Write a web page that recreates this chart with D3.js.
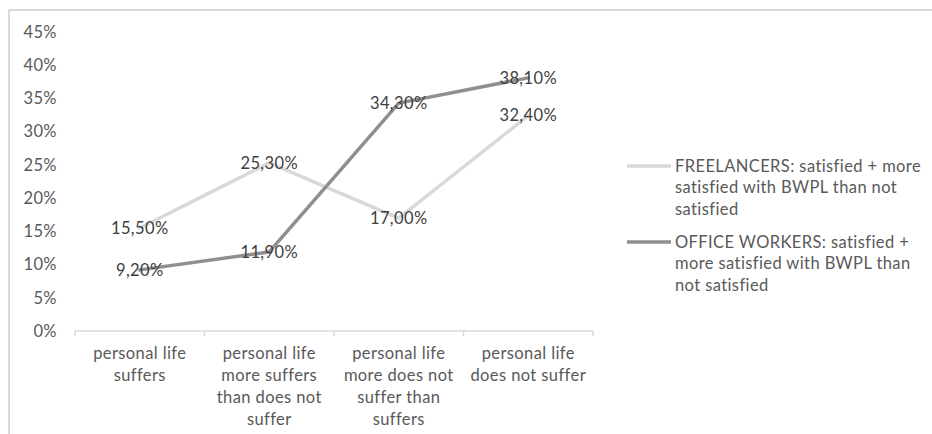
<!DOCTYPE html>
<html>
<head>
<meta charset="utf-8">
<script src="https://cdn.jsdelivr.net/npm/d3@7"></script>
<style>
  html, body { margin: 0; padding: 0; background: #fff; }
  svg { display: block; font-family: Lato, "Open Sans", sans-serif; }
  svg text { letter-spacing: 0.4px; }
</style>
</head>
<body>
<svg id="chart" width="932" height="434"></svg>
<script>
// Category labels, already broken into the lines shown under the axis
const categories = [
  ["personal life", "suffers"],
  ["personal life", "more suffers", "than does not", "suffer"],
  ["personal life", "more does not", "suffer than", "suffers"],
  ["personal life", "does not suffer"]
];
const freelancers = [15.5, 25.3, 17.0, 32.4];
const officeWorkers = [9.2, 11.9, 34.3, 38.1];
const yTicks = [0, 5, 10, 15, 20, 25, 30, 35, 40, 45];
const seriesNames = [
  ["FREELANCERS: satisfied + more", "satisfied with BWPL than not", "satisfied"],
  ["OFFICE WORKERS: satisfied +", "more satisfied with BWPL than", "not satisfied"]
];
const seriesColors = ["#d9d9d9", "#8f8f8f"];

const svg = d3.select("#chart");
const textColor = "#595959";
const fontSize = 16.5;

// Frame around the chart area (top and left edges visible)
svg.append("line").attr("x1", 9).attr("x2", 932).attr("y1", 10).attr("y2", 10)
  .attr("stroke", "#d9d9d9").attr("stroke-width", 2);
svg.append("line").attr("x1", 9).attr("x2", 9).attr("y1", 10).attr("y2", 434)
  .attr("stroke", "#d9d9d9").attr("stroke-width", 2);

const x = d3.scaleBand().domain(d3.range(categories.length)).range([75, 593]).padding(0);
const y = d3.scaleLinear().domain([0, 45]).range([331, 32]);

// Y axis labels (no axis line, no gridlines)
const yAxis = d3.axisLeft(y).tickValues(yTicks).tickSize(0).tickPadding(0)
  .tickFormat(d => d + "%");
const yg = svg.append("g").attr("transform", "translate(57,0)").call(yAxis);
yg.select(".domain").remove();
yg.selectAll("text").attr("fill", textColor).attr("font-size", fontSize)
  .attr("font-family", "Lato, 'Open Sans', sans-serif");

// X axis line with tick marks on band edges
const xg = svg.append("g");
xg.append("line").attr("x1", x.range()[0]).attr("x2", x.range()[1])
  .attr("y1", y(0)).attr("y2", y(0)).attr("stroke", "#d9d9d9").attr("stroke-width", 1.5);
const edges = d3.range(categories.length + 1).map(i => i < categories.length ? x(i) : x.range()[1]);
xg.selectAll("line.tick").data(edges).join("line").attr("class", "tick")
  .attr("x1", d => d).attr("x2", d => d).attr("y1", y(0)).attr("y2", y(0) + 5)
  .attr("stroke", "#d9d9d9").attr("stroke-width", 1.5);

const catLabels = xg.selectAll("text.cat").data(categories).join("text").attr("class", "cat")
  .attr("text-anchor", "middle").attr("fill", textColor).attr("font-size", fontSize)
  .attr("transform", (d, i) => `translate(${x(i) + x.bandwidth() / 2},${y(0) + 28})`);
catLabels.selectAll("tspan").data(d => d).join("tspan")
  .attr("x", 0).attr("dy", (d, i) => i === 0 ? 0 : 22).text(d => d);

// Lines
const line = d3.line().x((d, i) => x(i) + x.bandwidth() / 2).y(d => y(d));
[freelancers, officeWorkers].forEach((vals, s) => {
  svg.append("path").datum(vals).attr("d", line).attr("fill", "none")
    .attr("stroke", seriesColors[s]).attr("stroke-width", 3.5)
    .attr("stroke-linejoin", "round").attr("stroke-linecap", "round");
});

// Data labels centred on each point
const fmt = v => v.toFixed(2).replace(".", ",") + "%";
[freelancers, officeWorkers].forEach(vals => {
  svg.append("g").selectAll("text").data(vals).join("text")
    .attr("x", (d, i) => x(i) + x.bandwidth() / 2).attr("y", d => y(d))
    .attr("dy", "0.35em").attr("text-anchor", "middle")
    .attr("fill", "#404040").attr("font-size", fontSize).text(fmt);
});

// Legend
const legendTop = [166, 242];
seriesNames.forEach((lines, s) => {
  const g = svg.append("g").attr("transform", `translate(627,${legendTop[s]})`);
  g.append("line").attr("x1", 0).attr("x2", 44).attr("y1", 0).attr("y2", 0)
    .attr("stroke", seriesColors[s]).attr("stroke-width", 3.5);
  const t = g.append("text").attr("x", 48).attr("y", 0)
    .attr("fill", textColor).attr("font-size", fontSize);
  t.selectAll("tspan").data(lines).join("tspan")
    .attr("x", 48).attr("dy", (d, i) => i === 0 ? "0.35em" : 21.5).text(d => d);
});
</script>
</body>
</html>
